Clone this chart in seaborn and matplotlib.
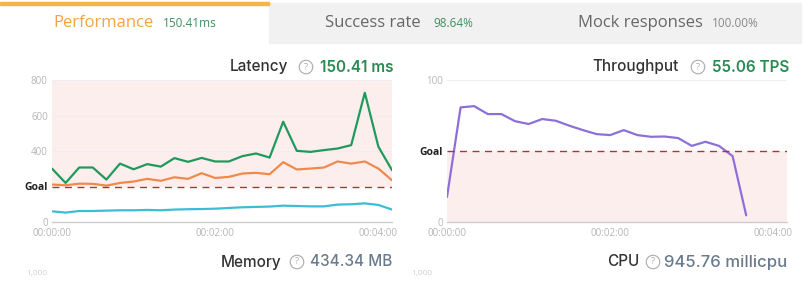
import numpy as np
import pandas as pd
import matplotlib
matplotlib.use("Agg")
import matplotlib.pyplot as plt
from matplotlib.patches import Rectangle
import seaborn as sns

# ---------------- data ----------------
lat_seconds = [0, 10, 20, 30, 40, 50, 60, 70, 80, 90, 100, 110, 120,
               130, 140, 150, 160, 170, 180, 190, 200, 210, 220, 230, 240, 250]
lat_p99 = [301, 220, 307, 307, 239, 329, 297, 326, 312, 360, 339, 361, 341,
           341, 371, 386, 363, 565, 401, 395, 405, 414, 433, 728, 424, 292]
lat_p95 = [211, 207, 216, 215, 205, 220, 228, 243, 232, 252, 243, 275, 248,
           254, 273, 277, 269, 337, 296, 301, 307, 341, 329, 341, 301, 235]
lat_avg = [60, 53, 62, 62, 64, 66, 66, 68, 66, 70, 72, 73, 75,
           79, 83, 85, 87, 92, 90, 88, 88, 98, 100, 105, 96, 70]
lat_goal = 200

tp_seconds = [0, 10, 20, 30, 40, 50, 60, 70, 80, 90, 100, 110, 120,
              130, 140, 150, 160, 170, 180, 190, 200, 210, 220]
tp_values = [17.6, 80.7, 81.6, 76.0, 76.0, 71.0, 69.0, 72.5, 71.3, 67.8, 64.7, 61.9,
             61.2, 64.7, 61.2, 60.0, 60.2, 59.1, 53.6, 56.5, 53.6, 46.4, 4.7]
tp_goal = 50

x_tick_seconds = [0, 120, 240]
x_tick_labels = ["00:00:00", "00:02:00", "00:04:00"]
lat_yticks = [0, 400, 600, 800]
tp_yticks = [0, 100]

tabs = ["Performance", "Success rate", "Mock responses"]
tab_values = ["150.41ms", "98.64%", "100.00%"]

# ---------------- figure ----------------
W, H = 804, 289
fig = plt.figure(figsize=(W / 100, H / 100), dpi=100)
sns.set_style("white")
plt.rcParams['font.family'] = ['Open Sans', 'DejaVu Sans']


def fx(px):
    return px / W


def fy(py):
    return 1 - py / H


# tab bar
fig.patches.append(Rectangle((fx(269), fy(43)), fx(801 - 269), (43 - 3) / H,
                             transform=fig.transFigure, color="#f1f1f1", zorder=0))
fig.patches.append(Rectangle((fx(0), fy(5)), fx(269), 3 / H,
                             transform=fig.transFigure, color="#f5b547", zorder=1))

tab_pos = [(53, 163), (325, 433), (578, 712)]
tab_colors = ["#f2a441", "#666666", "#666666"]
val_colors = ["#3f8f5f", "#3f8f5f", "#888888"]
for (tx, vx), t, v, tc, vc in zip(tab_pos, tabs, tab_values, tab_colors, val_colors):
    fig.text(fx(tx), fy(23), t, fontsize=12, color=tc, va="center", ha="left",
             fontweight="medium")
    fig.text(fx(vx), fy(23.5), v, fontsize=8.5, color=vc, va="center", ha="left")


def title(x_name, x_icon, x_val, y, name, val, vcolor, bold=True, vsize=11):
    fig.text(fx(x_name), fy(y), name, fontsize=11, color="#333333", family=["Inter", "DejaVu Sans"],
             va="center", ha="left", fontweight="medium")
    fig.text(fx(x_icon), fy(y), "?", fontsize=6.5, color="#aaaaaa", va="center", ha="center",
             bbox=dict(boxstyle="circle,pad=0.25", fc="white", ec="#aaaaaa", lw=0.8))
    fig.text(fx(x_val), fy(y), val, fontsize=vsize, color=vcolor, family=["Inter", "DejaVu Sans"],
             va="center", ha="left", fontweight="semibold" if bold else "medium")


title(230, 306, 320, 67, "Latency", "150.41 ms", "#2a8a52")
title(592, 698, 712, 67, "Throughput", "55.06 TPS", "#2a8a52")
title(221, 297, 310, 262, "Memory", "434.34 MB", "#6a7a8c", bold=False)
title(607, 653, 664, 262, "CPU", "945.76 millicpu", "#6a7a8c", bold=False, vsize=12)

# faint cut-off labels of next charts
fig.text(fx(26), fy(273), "1,000", fontsize=6, color="#d0d0d0", va="center", ha="left")
fig.text(fx(411), fy(273), "1,000", fontsize=6, color="#d0d0d0", va="center", ha="left")

ax_bottom = (H - 222) / H
ax_h = 142 / H
ax1 = fig.add_axes([fx(52), ax_bottom, fx(340), ax_h])
ax2 = fig.add_axes([fx(447), ax_bottom, fx(340), ax_h])

lat_df = pd.DataFrame({"t": lat_seconds, "p99": lat_p99, "p95": lat_p95, "avg": lat_avg})
tp_df = pd.DataFrame({"t": tp_seconds, "tps": tp_values})

# Latency
ax1.axhspan(lat_goal, 800, color="#fdeeee", zorder=0, lw=0)
sns.lineplot(data=lat_df, x="t", y="p99", ax=ax1, color="#1f9a5c", lw=1.6)
sns.lineplot(data=lat_df, x="t", y="p95", ax=ax1, color="#f08a4b", lw=1.6)
sns.lineplot(data=lat_df, x="t", y="avg", ax=ax1, color="#3cbdd4", lw=1.6)
ax1.axhline(lat_goal, color="#b03434", lw=1.0, ls=(0, (5, 4)))
ax1.set_xlim(0, 250)
ax1.set_ylim(0, 800)

# Throughput
ax2.axhspan(0, tp_goal, color="#fdeeee", zorder=0, lw=0)
sns.lineplot(data=tp_df, x="t", y="tps", ax=ax2, color="#8e6fd8", lw=1.6)
ax2.axhline(tp_goal, color="#b03434", lw=1.0, ls=(0, (5, 4)))
ax2.set_xlim(0, 250)
ax2.set_ylim(0, 100)

for ax, yt, goal in [(ax1, lat_yticks, lat_goal), (ax2, tp_yticks, tp_goal)]:
    ax.set_xlabel("")
    ax.set_ylabel("")
    for s in ["top", "right", "left"]:
        ax.spines[s].set_visible(False)
    ax.spines["bottom"].set_color("#cccccc")
    ax.spines["bottom"].set_linewidth(1.0)
    ax.set_xticks(x_tick_seconds)
    ax.set_xticklabels(x_tick_labels)
    ticks = sorted(yt + [goal])
    labels = ["Goal" if t == goal else str(t) for t in ticks]
    ax.set_yticks(ticks)
    ax.set_yticklabels(labels)
    for lab, t in zip(ax.get_yticklabels(), ticks):
        if t == goal:
            lab.set_color("#222222")
            lab.set_fontweight("bold")
            lab.set_fontsize(7.5)
        else:
            lab.set_color("#b5b5b5")
            lab.set_fontsize(7)
    ax.tick_params(axis="x", colors="#b5b5b5", labelsize=7, length=0, pad=4)
    ax.tick_params(axis="y", length=0, pad=3)
    for t in yt:
        if t > 0:
            ax.axhline(t, color="#eeeeee", lw=0.8, zorder=0.5)

fig.savefig("out.png", dpi=100)
